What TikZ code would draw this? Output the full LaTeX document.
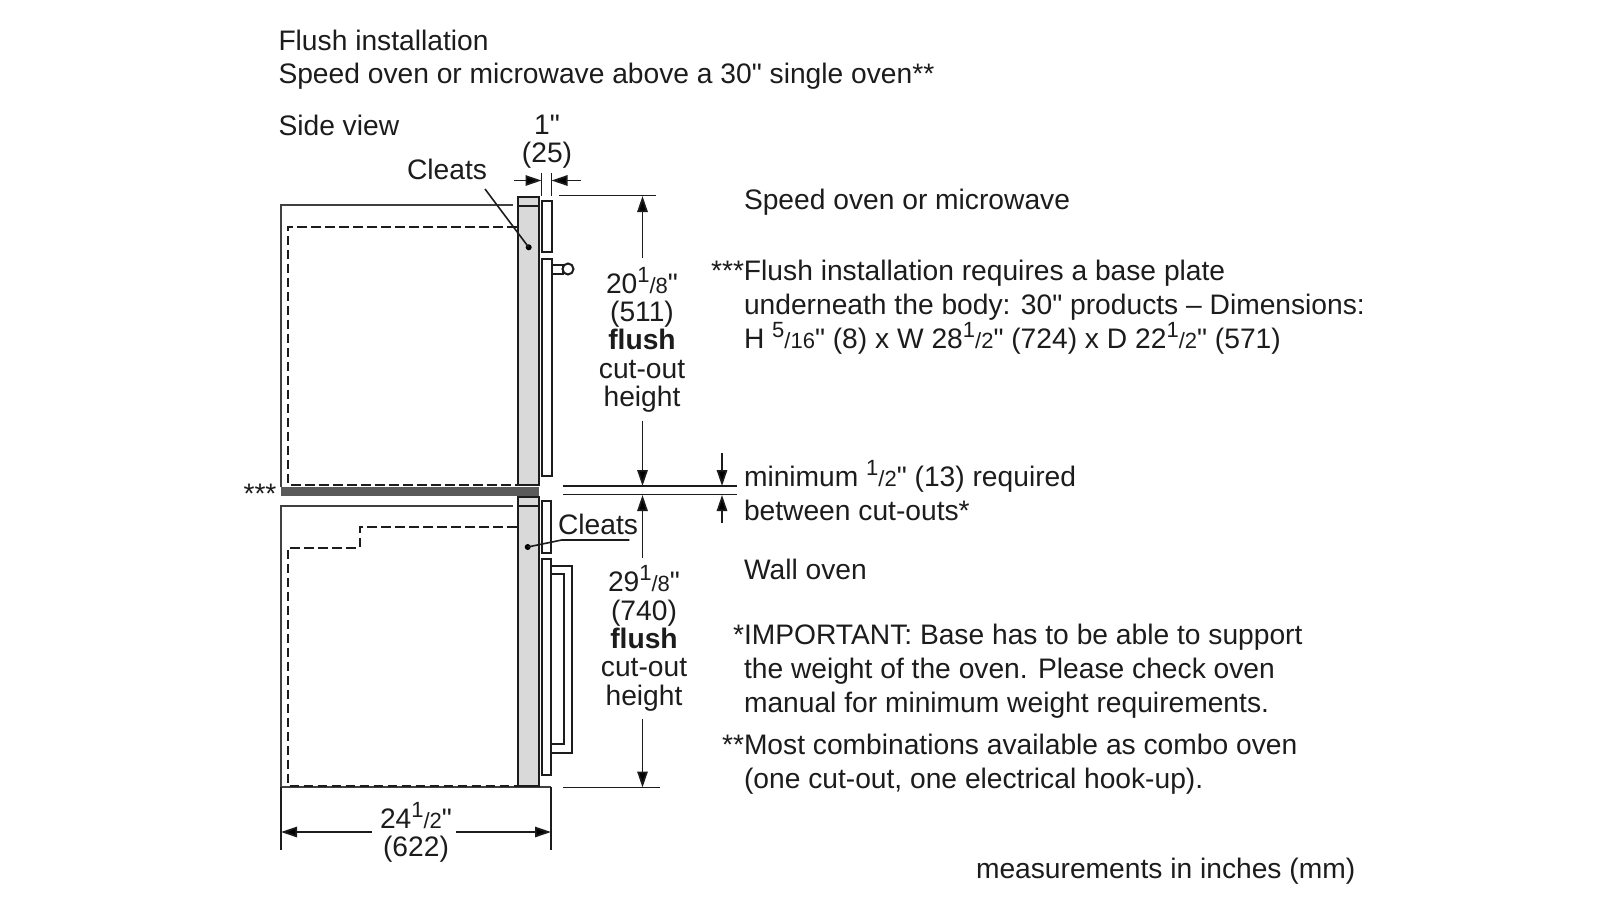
\documentclass[tikz,border=0pt]{standalone}
\usepackage{fontspec}
\newfontfamily\plainfont{Liberation Sans}
\usetikzlibrary{arrows.meta}
\newcommand{\frb}[2]{{\fontsize{11pt}{11pt}\selectfont\raisebox{0.5em}{#1}/#2}}
\tikzset{
  txt/.style={inner sep=0pt,outer sep=0pt,text=ink,font=\plainfont\fontsize{14.1pt}{16.9pt}\selectfont,align=left,anchor=north west},
  dimtxt/.style={inner sep=0pt,outer sep=0pt,text=ink,font=\plainfont\fontsize{14.1pt}{14.2pt}\selectfont,align=center,anchor=north},
  lbl/.style={inner sep=0pt,outer sep=0pt,text=ink,font=\plainfont\fontsize{14.1pt}{16.9pt}\selectfont},
  wall/.style={draw=wallc,line width=1pt},
  part/.style={draw=ink,line width=1pt,fill=white},
  panel/.style={draw=ink,line width=1pt,fill=panelc},
  hidden/.style={draw=ink,line width=1pt,dash pattern=on 4.8pt off 2.2pt},
  dimline/.style={draw=ink,line width=0.85pt},
  dimarrow/.style={draw=ink,line width=0.85pt,-{Triangle[length=8pt,width=5.2pt,fill=black]}},
  leader/.style={draw=ink,line width=0.8pt},
  dotmark/.style={circle,fill=black,inner sep=0pt,minimum size=3pt}
}
\definecolor{ink}{HTML}{1C1C1C}
\definecolor{wallc}{HTML}{404040}
\definecolor{panelc}{HTML}{D9D9D9}
\definecolor{barc}{HTML}{5A5A5A}
\begin{document}
\begin{tikzpicture}[x=0.5pt,y=-0.5pt]
\useasboundingbox (0,0) rectangle (1600,900);
\fill[white] (0,0) rectangle (1600,900);
% cabinet outlines
\draw[wall] (513,205) -- (281,205) -- (281,487);
\draw[wall] (513,506) -- (281,506) -- (281,787) -- (551,787);
\fill[barc] (281,487) rectangle (539,495.5);
% hidden lines
\draw[hidden] (517,226.5) -- (288,226.5) -- (288,484.5) -- (517,484.5);
\draw[hidden] (517,526.5) -- (360,526.5) -- (360,547.5) -- (288,547.5) -- (288,786) -- (517,786);
% panels
\draw[panel] (518,196.5) rectangle (539,485);
\draw[panel] (518,196.5) rectangle (539,205.5);
\draw[panel] (518,497) rectangle (539,786);
\draw[panel] (518,497) rectangle (539,505.5);
% upper oven door
\draw[part] (542,200.5) rectangle (551.5,252);
\draw[part] (542,258.5) rectangle (551.5,476);
\draw[part] (551.5,264.5) rectangle (562.5,273.5);
\draw[part] (568,269) circle (5.5);
% lower oven door
\draw[part] (541.5,500.5) rectangle (551,552.5);
\draw[part] (551,566) rectangle (572,752.5);
\draw[part] (551,573.5) rectangle (564,744);
\draw[part] (541.5,558.5) rectangle (551,774.5);
% coordinates
\coordinate (topL) at (559,195.5);
\coordinate (topR) at (656,195.5);
\coordinate (midAL) at (563,486);
\coordinate (midAR) at (737,486);
\coordinate (midBL) at (563,494.5);
\coordinate (midBR) at (737,494.5);
\coordinate (botL) at (563,787.5);
\coordinate (botR) at (660,787.5);
\coordinate (tickA1) at (541.5,173);
\coordinate (tickA2) at (541.5,196);
\coordinate (tickB1) at (551.5,173);
\coordinate (tickB2) at (551.5,196);
\coordinate (arA) at (514,180.5);
\coordinate (arAe) at (541.5,180.5);
\coordinate (arB) at (581,180.5);
\coordinate (arBe) at (551.5,180.5);
\coordinate (wL) at (281,787);
\coordinate (wL2) at (281,850);
\coordinate (wR) at (551,787);
\coordinate (wR2) at (551,850);
\coordinate (wLa) at (281,832);
\coordinate (wRa) at (551,832);
\draw[dimline] (topL) -- (topR);
\draw[dimline] (midAL) -- (midAR);
\draw[dimline] (midBL) -- (midBR);
\draw[dimline] (botL) -- (botR);
\draw[dimline] (tickA1) -- (tickA2);
\draw[dimline] (tickB1) -- (tickB2);
\draw[dimarrow] (arA) -- (arAe);
\draw[dimarrow] (arB) -- (arBe);
\draw[dimline] (wL) -- (wL2);
\draw[dimline] (wR) -- (wR2);
% labels
\node[txt,font=\plainfont\fontsize{14.1pt}{16.5pt}\selectfont] (title) at (278.5,30) {Flush installation\\Speed oven or microwave above a 30" single oven**};
\node[txt] (side) at (278.5,115) {Side view};
\node[lbl] (one) at (547,125) {1"};
\node[lbl] (mm25) at (547,155.5) {(25)};
\node[lbl] (cleatsA) at (447,169) {Cleats};
\node[lbl] (cleatsB) at (598,524) {Cleats};
\node[lbl] (stars) at (260,493.5) {***};
\node[dimtxt] (dimA) at (642,267) {20\frb{1}{8}"\\(511)\\\textbf{flush}\\cut-out\\height};
\node[dimtxt] (dimB) at (644,565.5) {29\frb{1}{8}"\\(740)\\\textbf{flush}\\cut-out\\height};
\node[dimtxt] (dimC) at (416,802) {24\frb{1}{2}"\\(622)};
\node[txt] (speed) at (744,189) {Speed oven or microwave};
\node[txt] (note3) at (744,260) {\llap{***}Flush installation requires a base plate\\underneath the body: 30" products – Dimensions:\\H \frb{5}{16}" (8) x W 28\frb{1}{2}" (724) x D 22\frb{1}{2}" (571)};
\node[txt] (minimum) at (744,460.5) {minimum \frb{1}{2}" (13) required\\between cut-outs*};
\node[txt] (wall) at (744,559) {Wall oven};
\node[txt] (note1) at (744,624) {\llap{*}IMPORTANT: Base has to be able to support\\the weight of the oven. Please check oven\\manual for minimum weight requirements.};
\node[txt] (note2) at (744,734) {\llap{**}Most combinations available as combo oven\\(one cut-out, one electrical hook-up).};
\node[txt] (units) at (976,858) {measurements in inches (mm)};
% dimension arrows to text
\draw[dimarrow] (642.5,258) -- (642.5,196);
\draw[dimarrow] (642.5,421) -- (642.5,486);
\draw[dimarrow] (642.5,558) -- (642.5,495);
\draw[dimarrow] (642.5,719) -- (642.5,787.5);
\draw[dimarrow] (722,453) -- (722,486);
\draw[dimarrow] (722,523) -- (722,495);
\draw[dimarrow] (372,832) -- (wLa);
\draw[dimarrow] (456,832) -- (wRa);
% leaders
\node[dotmark] (dotA) at (528.7,247.3) {};
\node[dotmark] (dotB) at (527.7,547) {};
\draw[leader] (485,189) -- (dotA.center);
\draw[leader] (dotB.center) -- (561.7,540) -- (629.3,540);
\end{tikzpicture}
\end{document}
